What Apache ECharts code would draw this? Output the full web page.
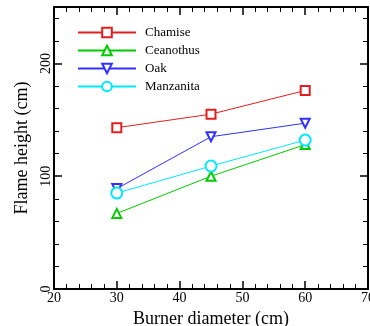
<!DOCTYPE html>
<html><head><meta charset="utf-8">
<script src="https://cdn.jsdelivr.net/npm/echarts@6/dist/echarts.min.js"></script>
<style>html,body{margin:0;padding:0;background:#fff}#c{width:370px;height:326px}</style>
</head><body><div id="c"></div>
<script>
const diameters = [30, 45, 60];
const chamise = [143, 155, 176];
const ceanothus = [67, 100, 128];
const oak = [89, 135, 147];
const manzanita = [85, 109, 132];
const seriesNames = ['Chamise', 'Ceanothus', 'Oak', 'Manzanita'];
const colors = ['#e02020', '#00cc00', '#3030ff', '#00e8ff'];
const font = '"Liberation Serif", "DejaVu Serif", serif';

function pairs(vals){ return diameters.map((d,i)=>[d, vals[i]]); }

const axisCommon = {
  axisLine: {show: true, onZero: false, lineStyle: {color: '#000', width: 2}},
  axisTick: {show: true, inside: true, length: 8, lineStyle: {color: '#000', width: 1.5}},
  minorTick: {show: true, splitNumber: 5, length: 5, lineStyle: {color: '#000', width: 1}},
  splitLine: {show: false}
};

const chart = echarts.init(document.getElementById('c'));
chart.setOption({
  animation: false,
  backgroundColor: '#fff',
  grid: {left: 54, right: 2, top: 7, bottom: 37, outerBoundsMode: 'none', containLabel: false},
  legend: {
    orient: 'vertical', left: 77, top: 26, padding: 0,
    itemWidth: 58, itemHeight: 12, itemGap: 5,
    textStyle: {fontFamily: font, fontSize: 13, color: '#000', padding: [0,0,0,4]},
    data: seriesNames
  },
  xAxis: [
    Object.assign({}, axisCommon, {
      type: 'value', min: 20, max: 70, interval: 10, position: 'bottom',
      name: 'Burner diameter (cm)', nameLocation: 'middle', nameGap: 17,
      nameTextStyle: {fontFamily: font, fontSize: 18, color: '#000'},
      axisLabel: {fontFamily: font, fontSize: 14, color: '#000', margin: 2}
    }),
    Object.assign({}, axisCommon, {
      type: 'value', min: 20, max: 70, interval: 10, position: 'top',
      axisLabel: {show: false}
    })
  ],
  yAxis: [
    Object.assign({}, axisCommon, {
      type: 'value', min: 0, max: 250, interval: 100, position: 'left',
      name: 'Flame height (cm)', nameLocation: 'middle', nameGap: 20,
      nameTextStyle: {fontFamily: font, fontSize: 18, color: '#000'},
      axisLabel: {fontFamily: font, fontSize: 14, color: '#000', rotate: 90, margin: 1, showMaxLabel: false}
    }),
    Object.assign({}, axisCommon, {
      type: 'value', min: 0, max: 250, interval: 100, position: 'right',
      axisLabel: {show: false}
    })
  ],
  series: [
    {name: seriesNames[0], type: 'line', data: pairs(chamise), symbol: 'emptyRect', symbolSize: 9},
    {name: seriesNames[1], type: 'line', data: pairs(ceanothus), symbol: 'emptyTriangle', symbolSize: 9},
    {name: seriesNames[2], type: 'line', data: pairs(oak), symbol: 'emptyTriangle', symbolRotate: 180, symbolSize: 9},
    {name: seriesNames[3], type: 'line', data: pairs(manzanita), symbol: 'emptyCircle', symbolSize: 11}
  ].map((s,i)=>Object.assign(s, {
    color: colors[i],
    lineStyle: {width: 1, color: colors[i]},
    itemStyle: {color: colors[i], borderWidth: 1.2, borderColor: colors[i]}
  }))
});
</script></body></html>
